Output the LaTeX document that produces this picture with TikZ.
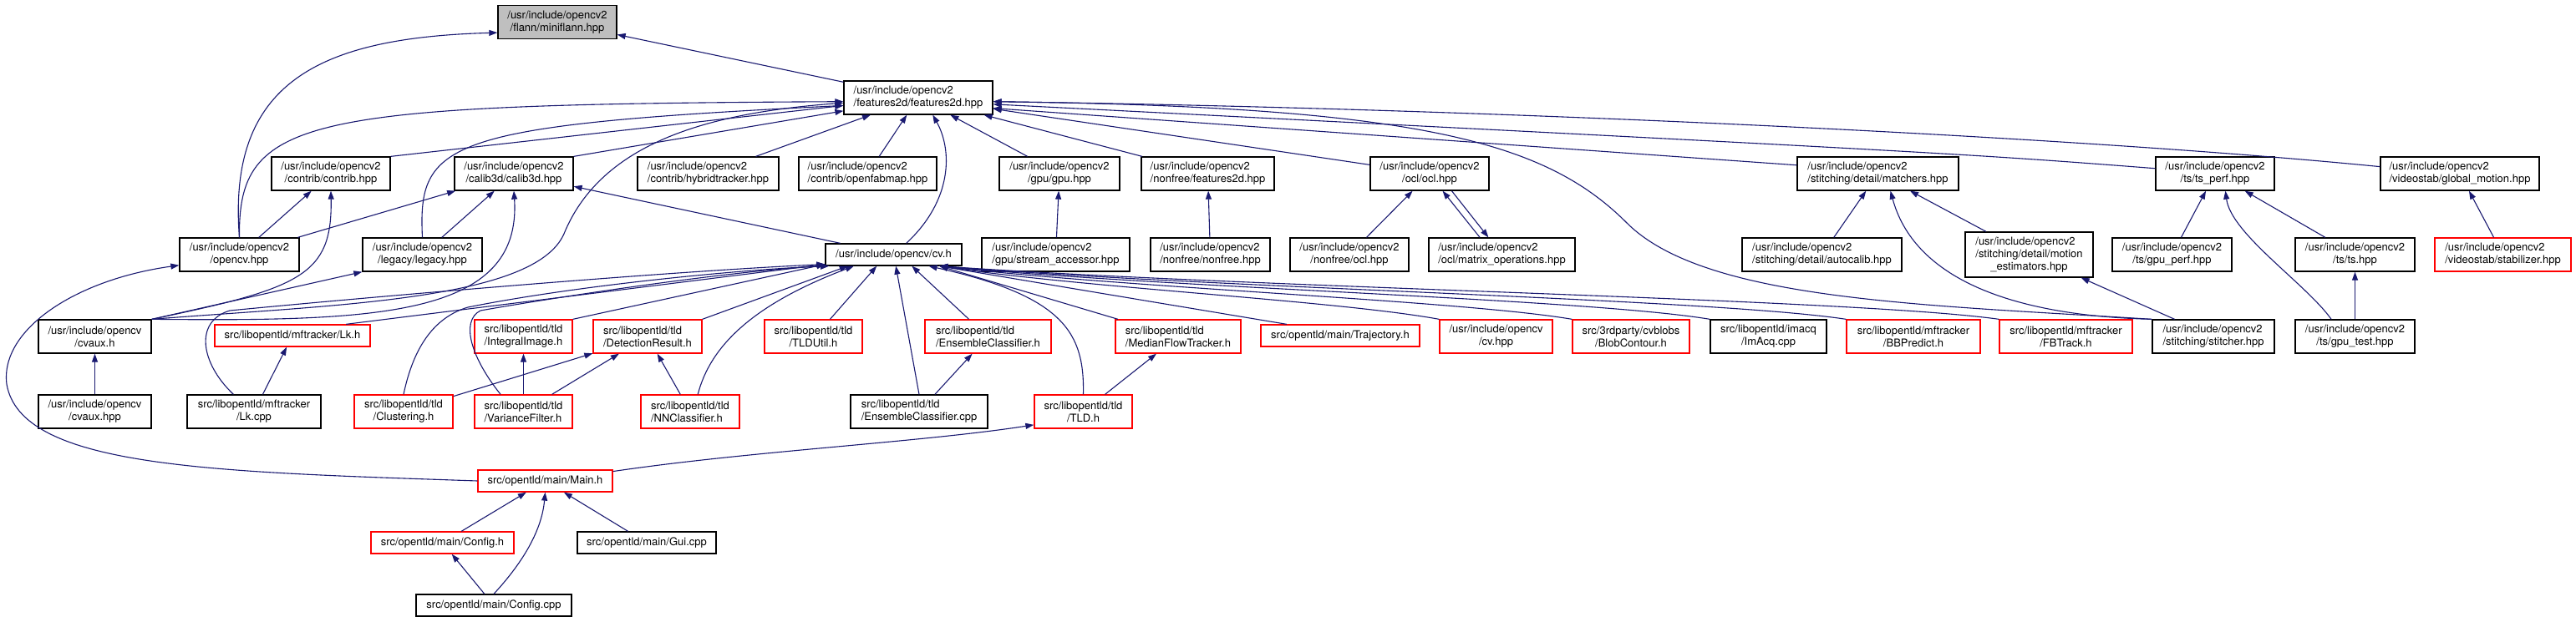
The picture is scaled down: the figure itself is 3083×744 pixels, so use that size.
\documentclass[tikz,border=0pt]{standalone}
\usepackage{fontspec}
\setmainfont{TeX Gyre Heros}
\usetikzlibrary{arrows.meta}
\definecolor{edgeblue}{HTML}{191970}
\definecolor{rootgray}{HTML}{BFBFBF}
\tikzset{
  incfile/.style={draw=black, fill=white, line width=1.3pt, inner sep=0pt,
    minimum height=40pt, font=\fontsize{13}{15}\selectfont},
  cfile/.style={incfile, align=center},
  lfile/.style={incfile, align=left},
  oneline/.style={incfile, minimum height=26pt},
  redbox/.style={draw=red},
  incl/.style={->, draw=edgeblue, line width=1.1pt},
}
\begin{document}
\begin{tikzpicture}[x=1pt, y=-1pt, >={Triangle[length=10pt,width=7pt]}]
  \useasboundingbox (0,0) rectangle (3083,744);

  \node[cfile, fill=rootgray, minimum width=142pt] (miniflann) at (667,26.5) {/usr/include/opencv2\\/flann/miniflann.hpp};
  \node[lfile, minimum width=178pt] (feat) at (1099,117) {/usr/include/opencv2\\/features2d/features2d.hpp};

  \node[cfile, minimum width=142pt] (contrib) at (396,208) {/usr/include/opencv2\\/contrib/contrib.hpp};
  \node[cfile, minimum width=142pt] (calib) at (615,208) {/usr/include/opencv2\\/calib3d/calib3d.hpp};
  \node[lfile, minimum width=169pt] (hybrid) at (847.5,208) {/usr/include/opencv2\\/contrib/hybridtracker.hpp};
  \node[lfile, minimum width=165pt] (fabmap) at (1038.5,208) {/usr/include/opencv2\\/contrib/openfabmap.hpp};
  \node[cfile, minimum width=144pt] (gpu) at (1268,208) {/usr/include/opencv2\\/gpu/gpu.hpp};
  \node[lfile, minimum width=159pt] (nffeat) at (1445.5,208) {/usr/include/opencv2\\/nonfree/features2d.hpp};
  \node[cfile, minimum width=142pt] (ocl) at (1711,208) {/usr/include/opencv2\\/ocl/ocl.hpp};
  \node[lfile, minimum width=193pt] (matchers) at (2247.5,208) {/usr/include/opencv2\\/stitching/detail/matchers.hpp};
  \node[cfile, minimum width=142pt] (tsperf) at (2651,208) {/usr/include/opencv2\\/ts/ts\_perf.hpp};
  \node[lfile, minimum width=190pt] (gmotion) at (2944,208) {/usr/include/opencv2\\/videostab/global\_motion.hpp};

  \node[cfile, minimum width=143pt] (opencvhpp) at (286.5,305) {/usr/include/opencv2\\/opencv.hpp};
  \node[cfile, minimum width=143pt] (legacy) at (505.5,305) {/usr/include/opencv2\\/legacy/legacy.hpp};
  \node[oneline, minimum width=163pt] (cvh) at (1069.5,305) {/usr/include/opencv/cv.h};
  \node[lfile, minimum width=177pt] (stream) at (1263.5,305) {/usr/include/opencv2\\/gpu/stream\_accessor.hpp};
  \node[lfile, minimum width=143pt] (nonfree) at (1448.5,305) {/usr/include/opencv2\\/nonfree/nonfree.hpp};
  \node[cfile, minimum width=142pt] (nfocl) at (1615,305) {/usr/include/opencv2\\/nonfree/ocl.hpp};
  \node[lfile, minimum width=175pt] (matops) at (1797.5,305) {/usr/include/opencv2\\/ocl/matrix\_operations.hpp};
  \node[lfile, minimum width=191pt] (autocalib) at (2180.5,305) {/usr/include/opencv2\\/stitching/detail/autocalib.hpp};
  \node[incfile, minimum width=153pt, minimum height=54pt] (motion) at (2428.5,305)
    {\begin{tabular}{@{}l@{}}/usr/include/opencv2\\/stitching/detail/motion\\\multicolumn{1}{@{}c@{}}{\_estimators.hpp}\end{tabular}};
  \node[cfile, minimum width=143pt] (gpuperf) at (2599.5,305) {/usr/include/opencv2\\/ts/gpu\_perf.hpp};
  \node[cfile, minimum width=143pt] (tshpp) at (2818.5,305) {/usr/include/opencv2\\/ts/ts.hpp};
  \node[lfile, redbox, minimum width=163pt] (stab) at (2995.5,305) {/usr/include/opencv2\\/videostab/stabilizer.hpp};

  \node[cfile, minimum width=135pt] (cvauxh) at (113.5,403) {/usr/include/opencv\\/cvaux.h};
  \node[oneline, redbox, minimum width=186pt] (lkh) at (350,402) {src/libopentld/mftracker/Lk.h};
  \node[lfile, redbox, minimum width=117pt] (integral) at (626.5,403) {src/libopentld/tld\\/IntegralImage.h};
  \node[lfile, redbox, minimum width=130pt] (detres) at (775,403) {src/libopentld/tld\\/DetectionResult.h};
  \node[cfile, redbox, minimum width=117pt] (tldutil) at (973.5,403) {src/libopentld/tld\\/TLDUtil.h};
  \node[lfile, redbox, minimum width=151pt] (ensh) at (1182.5,403) {src/libopentld/tld\\/EnsembleClassifier.h};
  \node[lfile, redbox, minimum width=150pt] (mft) at (1410,403) {src/libopentld/tld\\/MedianFlowTracker.h};
  \node[oneline, redbox, minimum width=190pt] (traj) at (1604,402) {src/opentld/main/Trajectory.h};
  \node[cfile, redbox, minimum width=135pt] (cvhpp) at (1790.5,403) {/usr/include/opencv\\/cv.hpp};
  \node[cfile, redbox, minimum width=140pt] (blob) at (1952,403) {src/3rdparty/cvblobs\\/BlobContour.h};
  \node[cfile, minimum width=139pt] (imacq) at (2116.5,403) {src/libopentld/imacq\\/ImAcq.cpp};
  \node[cfile, redbox, minimum width=160pt] (bbpred) at (2290,403) {src/libopentld/mftracker\\/BBPredict.h};
  \node[cfile, redbox, minimum width=159pt] (fbtrack) at (2472.5,403) {src/libopentld/mftracker\\/FBTrack.h};
  \node[lfile, minimum width=146pt] (stitcher) at (2649,403) {/usr/include/opencv2\\/stitching/stitcher.hpp};
  \node[cfile, minimum width=143pt] (gputest) at (2818.5,403) {/usr/include/opencv2\\/ts/gpu\_test.hpp};

  \node[cfile, minimum width=135pt] (cvauxhpp) at (113.5,493) {/usr/include/opencv\\/cvaux.hpp};
  \node[cfile, minimum width=160pt] (lkcpp) at (304,493) {src/libopentld/mftracker\\/Lk.cpp};
  \node[cfile, redbox, minimum width=118pt] (clust) at (483,493) {src/libopentld/tld\\/Clustering.h};
  \node[lfile, redbox, minimum width=117pt] (varf) at (626.5,493) {src/libopentld/tld\\/VarianceFilter.h};
  \node[lfile, redbox, minimum width=118pt] (nncl) at (826,493) {src/libopentld/tld\\/NNClassifier.h};
  \node[lfile, minimum width=164pt] (enscpp) at (1100,493) {src/libopentld/tld\\/EnsembleClassifier.cpp};
  \node[cfile, redbox, minimum width=117pt] (tldh) at (1296.5,493) {src/libopentld/tld\\/TLD.h};

  \node[oneline, redbox, minimum width=161pt] (mainh) at (652.5,576) {src/opentld/main/Main.h};
  \node[oneline, redbox, minimum width=171pt] (configh) at (529.5,650) {src/opentld/main/Config.h};
  \node[oneline, minimum width=166pt] (gui) at (774,650) {src/opentld/main/Gui.cpp};
  \node[oneline, minimum width=186pt] (configcpp) at (591,725) {src/opentld/main/Config.cpp};

  \draw[incl] (feat) -- (miniflann);
  \draw[incl] (opencvhpp.north) .. controls (272,100) and (380,45) .. (miniflann.190);

  \draw[incl] (opencvhpp.north) .. controls (285,140) and (360,125) .. (feat.183);
  \draw[incl] (contrib.north east) -- (feat.186);
  \draw[incl] (legacy.north) .. controls (500,170) and (530,150) .. (feat.186);
  \draw[incl] (calib.north east) -- (feat.190);
  \draw[incl] (cvauxh.north east) .. controls (400,365) and (640,360) .. (675,280) .. controls (720,170) and (850,135) .. (feat.184);
  \draw[incl] (hybrid) -- (feat);
  \draw[incl] (fabmap) -- (feat);
  \draw[incl] (cvh.42) .. controls (1140,240) and (1140,180) .. (feat.-50);
  \draw[incl] (gpu) -- (feat);
  \draw[incl] (nffeat) -- (feat);
  \draw[incl] (ocl) -- (feat);
  \draw[incl] (stitcher.north west) .. controls (2300,365) and (2040,360) .. (1947,267) .. controls (1850,170) and (1700,128) .. (feat.-3);
  \draw[incl] (matchers.174) -- (feat.-8);
  \draw[incl] (tsperf.175) .. controls (2350,184) .. (feat.-5);
  \draw[incl] (gmotion.175) .. controls (2500,165) and (1800,130) .. (feat.-3);

  \draw[incl] (opencvhpp) -- (contrib);
  \draw[incl] (opencvhpp) -- (calib);
  \draw[incl] (legacy) -- (calib);
  \draw[incl] (cvauxh.north east) .. controls (360,345) and (398,330) .. (contrib.south);
  \draw[incl] (cvauxh.north east) -- (legacy.south west);
  \draw[incl] (cvauxh.north east) .. controls (450,385) and (625,380) .. (calib.south);
  \draw[incl] (cvh) -- (calib);
  \draw[incl] (mainh.west) .. controls (250,565) and (25,560) .. (8,460) .. controls (0,395) and (90,335) .. (opencvhpp.190);

  \draw[incl] (stream) -- (gpu);
  \draw[incl] (nonfree) -- (nffeat);
  \draw[incl] (nfocl) -- (ocl);
  \draw[incl] (matops.142) -- (ocl.-53);
  \draw[incl] (ocl.-38) -- (matops.128);
  \draw[incl] (autocalib) -- (matchers);
  \draw[incl] (motion) -- (matchers);
  \draw[incl] (stitcher.north west) .. controls (2400,378) and (2290,330) .. (matchers.-54);
  \draw[incl] (stitcher) -- (motion);
  \draw[incl] (gpuperf) -- (tsperf);
  \draw[incl] (tshpp) -- (tsperf);
  \draw[incl] (gputest.144) .. controls (2760,340) and (2670,280) .. (tsperf.-59);
  \draw[incl] (gputest) -- (tshpp);
  \draw[incl] (stab) -- (gmotion);

  \draw[incl] (lkh.12) -- (cvh.188);
  \draw[incl] (lkcpp.140) .. controls (240,435) and (232,385) .. (275,372) .. controls (450,355) and (800,325) .. (cvh.188);
  \draw[incl] (clust.north) .. controls (495,415) and (520,380) .. (560,368) .. controls (700,340) and (900,322) .. (cvh.190);
  \draw[incl] (varf.143) .. controls (565,430) and (550,385) .. (575,372) .. controls (700,350) and (900,322) .. (cvh.190);
  \draw[incl] (integral.north east) -- (cvh.188);
  \draw[incl] (detres.north east) -- (cvh.194);
  \draw[incl] (nncl.66) .. controls (850,415) and (900,365) .. (cvh.196);
  \draw[incl] (tldutil.46) -- (cvh.214);
  \draw[incl] (enscpp.north) -- (cvh.-79);
  \draw[incl] (ensh.138) -- (cvh.-32);
  \draw[incl] (tldh.north) .. controls (1298,400) and (1275,355) .. (cvh.-18);
  \draw[incl] (mft.164) -- (cvh.-14);
  \draw[incl] (traj.168) .. controls (1430,370) and (1250,340) .. (cvh.-14);
  \draw[incl] (cvhpp.north west) .. controls (1600,360) and (1300,345) .. (cvh.-14);
  \draw[incl] (blob.north west) .. controls (1750,360) and (1350,345) .. (cvh.-14);
  \draw[incl] (imacq.north west) .. controls (1900,358) and (1400,345) .. (cvh.-14);
  \draw[incl] (bbpred.north west) .. controls (2050,358) and (1450,345) .. (cvh.-14);
  \draw[incl] (fbtrack.north west) .. controls (2220,358) and (1500,345) .. (cvh.-14);

  \draw[incl] (cvauxhpp) -- (cvauxh);
  \draw[incl] (lkcpp) -- (lkh);
  \draw[incl] (clust) -- (detres);
  \draw[incl] (varf) -- (integral);
  \draw[incl] (varf) -- (detres);
  \draw[incl] (nncl) -- (detres);
  \draw[incl] (enscpp) -- (ensh);
  \draw[incl] (tldh) -- (mft);

  \draw[incl] (mainh.8) .. controls (900,540) and (1100,530) .. (tldh.195);
  \draw[incl] (configh) -- (mainh);
  \draw[incl] (gui) -- (mainh);
  \draw[incl] (configcpp.north) .. controls (620,680) and (648,640) .. (mainh.south);
  \draw[incl] (configcpp) -- (configh);
\end{tikzpicture}
\end{document}
